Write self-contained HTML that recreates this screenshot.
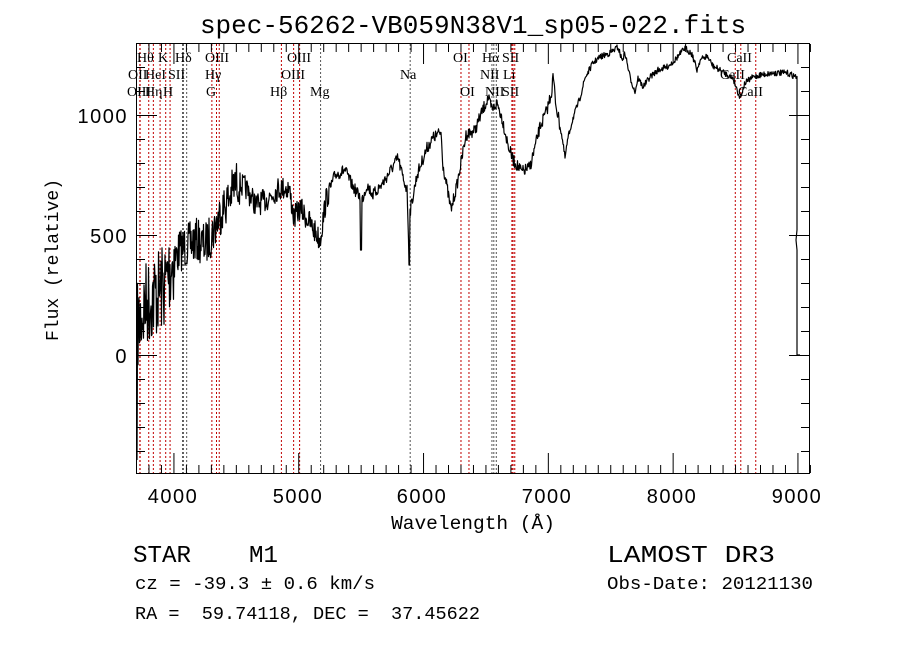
<!DOCTYPE html>
<html><head><meta charset="utf-8"><style>
html,body{margin:0;padding:0;background:#fff;}
svg{display:block}
text{white-space:pre}
.m{font-family:"Liberation Mono",monospace;fill:#000}
.s{font-family:"Liberation Serif",serif;font-size:14px;fill:#000}
.n{font-family:"Liberation Sans",sans-serif;font-size:20px;fill:#000;letter-spacing:1.5px}
</style></head><body>
<svg id="c" width="900" height="649" viewBox="0 0 900 649" xmlns="http://www.w3.org/2000/svg" xml:space="preserve">
<rect width="900" height="649" fill="#fff"/>
<text class="m" x="473" y="33" font-size="26" text-anchor="middle">spec-56262-VB059N38V1_sp05-022.fits</text>
<g id="lines"></g>
<g id="ticks" stroke="#000" stroke-width="1"></g>
<rect x="136.5" y="43.5" width="673" height="430" fill="none" stroke="#000" stroke-width="1"/>
<polyline id="sp" fill="none" stroke="#000" stroke-width="1.2" stroke-linejoin="round" points=""/>
<g id="labs" class="s"></g>
<text class="n" x="128" y="123" text-anchor="end">1000</text>
<text class="n" x="128" y="243" text-anchor="end">500</text>
<text class="n" x="128" y="363" text-anchor="end">0</text>
<text class="n" x="173" y="503" text-anchor="middle">4000</text>
<text class="n" x="298" y="503" text-anchor="middle">5000</text>
<text class="n" x="422" y="503" text-anchor="middle">6000</text>
<text class="n" x="547" y="503" text-anchor="middle">7000</text>
<text class="n" x="672" y="503" text-anchor="middle">8000</text>
<text class="n" x="797" y="503" text-anchor="middle">9000</text>
<text class="m" x="473" y="529" font-size="19.5" text-anchor="middle">Wavelength (Å)</text>
<text class="m" transform="translate(58,260) rotate(-90)" font-size="18" text-anchor="middle">Flux (relative)</text>
<text class="m" x="133" y="562" font-size="24" textLength="145" lengthAdjust="spacingAndGlyphs">STAR    M1</text>
<text class="m" x="607" y="562" font-size="24" textLength="168" lengthAdjust="spacingAndGlyphs">LAMOST DR3</text>
<text class="m" x="135" y="589" font-size="18" textLength="240" lengthAdjust="spacingAndGlyphs">cz = -39.3 ± 0.6 km/s</text>
<text class="m" x="607" y="589" font-size="18" textLength="206" lengthAdjust="spacingAndGlyphs">Obs-Date: 20121130</text>
<text class="m" x="135" y="619" font-size="18" textLength="345" lengthAdjust="spacingAndGlyphs">RA =  59.74118, DEC =  37.45622</text>
</svg>
<script>
var NS="http://www.w3.org/2000/svg";
function X(l){return 136+(l-3700)*0.1248;}
function el(p,t,a,txt){var e=document.createElementNS(NS,t);for(var k in a)e.setAttribute(k,a[k]);if(txt)e.textContent=txt;p.appendChild(e);return e;}
var tk=document.getElementById("ticks");
for(var l=3700;l<=9100;l+=100){var x=X(l)+0.5;var maj=(l%1000==0);var h=maj?20:8;
el(tk,"line",{x1:x,y1:473,x2:x,y2:473-h});el(tk,"line",{x1:x,y1:44,x2:x,y2:44+h});}
for(var f=-500;f<=1300;f+=100){var y=355-0.24*f+0.5;if(y<44||y>473)continue;var maj=(f%500==0);var w=maj?20:8;
el(tk,"line",{x1:137,y1:y,x2:137+w,y2:y});el(tk,"line",{x1:809,y1:y,x2:809-w,y2:y});}
var L=[[3727,1],[3729,1],[3798,1],[3835,1],[3889,1],[3934,1],[3969,1],[4069,0],[4076,0],[4102,0],[4304,1],[4341,1],[4363,1],[4861,1],[4959,1],[5007,1],[5175,0],[5893,0],[6300,1],[6364,1],[6548,0],[6563,0],[6583,0],[6708,1],[6717,1],[6731,1],[8498,1],[8542,1],[8662,1]];
var lg=document.getElementById("lines");
L.forEach(function(a){var x=X(a[0])+0.5;el(lg,"line",{x1:x,y1:44,x2:x,y2:473,stroke:a[1]?"#c00000":"#555","stroke-width":1,"stroke-dasharray":"2,2"});});
var T=[["Hθ",137,62],["K",158,62],["Hδ",175,62],["OIII",205,62],["OIII",287,62],["OI",453,62],["Hα",482,62],["SII",502,62],["CaII",727,62],
["OII",128,79],["HeI",145,79],["SII",168,79],["Hγ",205,79],["OIII",281,79],["Na",400,79],["NII",480,79],["Li",503,79],["CaII",720,79],
["OIII",127,96],["Hη",145,96],["H",163,96],["G",206,96],["Hβ",270,96],["Mg",310,96],["OI",460,96],["NII",485,96],["SII",502,96],["CaII",738,96]];
var lb=document.getElementById("labs");
T.forEach(function(t){el(lb,"text",{x:t[1],y:t[2]},t[0]);});
var P=[[137,330],[145,305],[155,295],[165,285],[172,262],[180,250],[188,245],[196,240],[205,245],[213,232],[221,212],[228,200],[236,182],[246,188],[256,205],[266,200],[279,188],[289,188],[294,218],[300,208],[308,220],[317,235],[320,240],[326,200],[335,175],[345,170],[353,187],[362,200],[367,185],[373,195],[383,183],[392,168],[398,158],[403,178],[407,190],[409,250],[410,212],[417,175],[427,148],[433,138],[441,132],[443,165],[451,210],[457,185],[466,135],[475,130],[482,112],[488,98],[492,110],[497,103],[502,118],[508,145],[513,160],[522,172],[530,167],[540,127],[547,110],[552,90],[553,75],[556,105],[562,137],[565,158],[568,138],[573,118],[580,98],[585,78],[593,63],[600,57],[610,53],[618,47],[622,60],[625,53],[630,77],[635,92],[638,78],[643,87],[650,77],[658,70],[667,67],[675,60],[685,48],[692,54],[697,70],[700,60],[707,56],[713,66],[723,72],[733,78],[740,98],[745,83],[753,77],[760,75],[773,73],[787,73],[797,77]];
var seed=7;function rnd(){seed=(seed*16807)%2147483647;return seed/2147483647;}
function interp(x){for(var i=0;i<P.length-1;i++){if(x>=P[i][0]&&x<=P[i+1][0]){var t=(x-P[i][0])/(P[i+1][0]-P[i][0]);return P[i][1]+t*(P[i+1][1]-P[i][1]);}}return P[P.length-1][1];}
var pts=["137,460","137.3,390"];
for(var x=137.5;x<=797;x+=0.5){var b=interp(x);var amp=x<175?45:(x<240?22:(x<330?12:(x<560?6:3)));
var y=b+(rnd()-0.5)*amp*2;if(x>360&&x<362)y=250;if(x>408.5&&x<409.8)y=265;pts.push(x.toFixed(1)+","+y.toFixed(1));}
pts.push("797,100","797,230","796,240","797,250","797,355","800,355");
document.getElementById("sp").setAttribute("points",pts.join(" "));
</script>
</body></html>
